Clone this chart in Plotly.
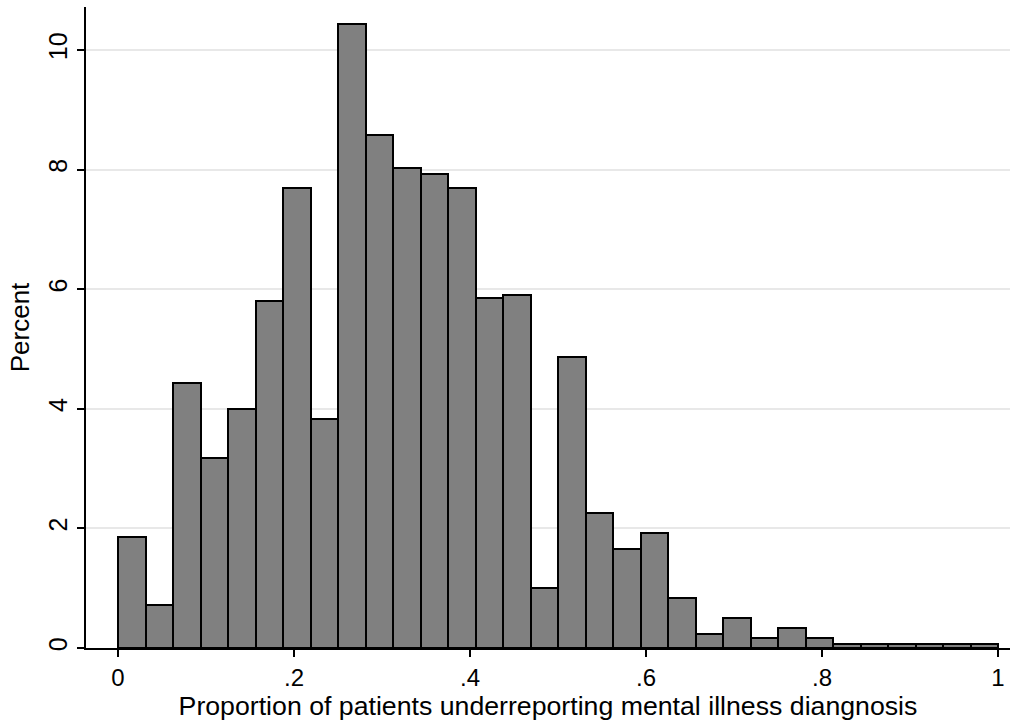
import plotly.graph_objects as go

bin_start = 0.0
bin_width = 1 / 32
percent = [1.86, 0.72, 4.44, 3.18, 4.00, 5.80, 7.70, 3.83, 10.43, 8.58,
           8.03, 7.93, 7.70, 5.86, 5.90, 1.00, 4.87, 2.25, 1.65, 1.93,
           0.84, 0.23, 0.50, 0.17, 0.33, 0.17, 0.06, 0.06, 0.06, 0.06,
           0.06, 0.06]
x_tick_vals = [0, 0.2, 0.4, 0.6, 0.8, 1]
x_tick_text = ["0", ".2", ".4", ".6", ".8", "1"]
y_tick_vals = [0, 2, 4, 6, 8, 10]
y_tick_text = ["0", "2", "4", "6", "8", "10"]

centers = [bin_start + (i + 0.5) * bin_width for i in range(len(percent))]

fig = go.Figure(go.Bar(
    x=centers, y=percent, width=bin_width,
    marker=dict(color="#808080", line=dict(color="black", width=2)),
))

font = "Liberation Sans, Arial, Helvetica, sans-serif"
fig.update_layout(
    width=1010, height=723,
    margin=dict(l=86, r=0, t=7, b=75, autoexpand=False),
    paper_bgcolor="white", plot_bgcolor="white",
    showlegend=False,
    font=dict(family=font, color="black", size=22),
    bargap=0,
)
fig.update_xaxes(
    range=[-0.0364, 1.0136], automargin=False,
    tickvals=x_tick_vals, ticktext=x_tick_text,
    ticks="outside", ticklen=7, tickwidth=1.5, tickcolor="black",
    showline=True, linecolor="black", linewidth=1.5,
    showgrid=False, zeroline=False,
    tickfont=dict(size=24),
    title=dict(text="Proportion of patients underreporting mental illness diangnosis",
               font=dict(size=26.7), standoff=2),
)
fig.update_yaxes(
    range=[0, 10.72], automargin=False,
    tickvals=y_tick_vals, ticktext=y_tick_text, tickangle=-90,
    ticks="outside", ticklen=7, tickwidth=1.5, tickcolor="black",
    showline=True, linecolor="black", linewidth=1.5,
    showgrid=True, gridcolor="#e8e8e8", gridwidth=1.5,
    zeroline=False,
    tickfont=dict(size=25),
    title=dict(text="Percent", font=dict(size=26), standoff=7),
)

fig.write_html("out.html", config={"displayModeBar": False},
               post_script="document.body.style.margin='0';document.body.style.overflow='hidden';")
